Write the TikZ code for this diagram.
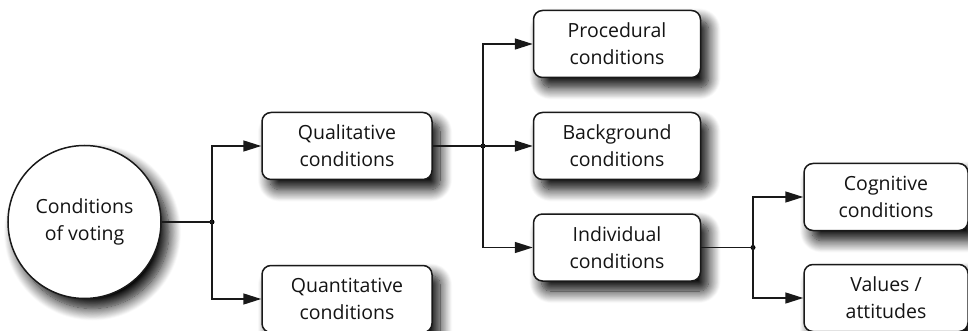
\documentclass[tikz,border=0pt]{standalone}
\usepackage{fontspec}
\setmainfont{Open Sans}
\usetikzlibrary{arrows.meta,shadows.blur}
\begin{document}
\begin{tikzpicture}[x=1pt,y=-1pt,
  shd/.style={blur shadow={shadow xshift=8pt, shadow yshift=-10pt, shadow blur steps=14, shadow blur radius=12pt, shadow opacity=100}},
  box/.style={draw=black!90, line width=1.5pt, rounded corners=9pt, fill=white, minimum width=170pt, minimum height=67pt, align=center, font=\fontsize{19.5}{27}\selectfont, text=black!92, shd},
  circ/.style={draw=black!90, line width=1.5pt, circle, fill=white, minimum size=153pt, inner sep=0pt, align=center, font=\fontsize{19.5}{27}\selectfont, text=black!92, shd},
  conn/.style={line width=1.5pt, draw=black!90},
  arr/.style={conn, -{Triangle[length=18pt,width=11pt]}},
  dot/.style={circle, fill=black, inner sep=0pt, minimum size=5pt}
]
\useasboundingbox (0,0) rectangle (968,331);
\node[circ] (cv) at (84.5,222) {Conditions\\of voting};
\node[box] (qual) at (347,146) {Qualitative\\conditions};
\node[box] (quant) at (347,299) {Quantitative\\conditions};
\node[box, minimum width=167pt] (proc) at (617,44) {Procedural\\conditions};
\node[box, minimum width=167pt] (back) at (617,146) {Background\\conditions};
\node[box, minimum width=167pt] (indiv) at (617,247.5) {Individual\\conditions};
\node[box, minimum width=164pt] (cog) at (886,197) {Cognitive\\conditions};
\node[box, minimum width=164pt] (val) at (886,298) {Values /\\attitudes};
\node[dot] (j1) at (212,222) {};
\node[dot] (j2) at (483,146) {};
\node[dot] (j3) at (753,247.5) {};
\draw[conn] (cv) -- (j1.center);
\draw[arr] (j1.center) |- (qual.west);
\draw[arr] (j1.center) |- (quant.west);
\draw[conn] (qual) -- (j2.center);
\draw[arr] (j2.center) |- (proc.west);
\draw[arr] (j2.center) -- (back.west);
\draw[arr] (j2.center) |- (indiv.west);
\draw[conn] (indiv) -- (j3.center);
\draw[arr] (j3.center) |- (cog.west);
\draw[arr] (j3.center) |- (val.west);
\end{tikzpicture}
\end{document}
